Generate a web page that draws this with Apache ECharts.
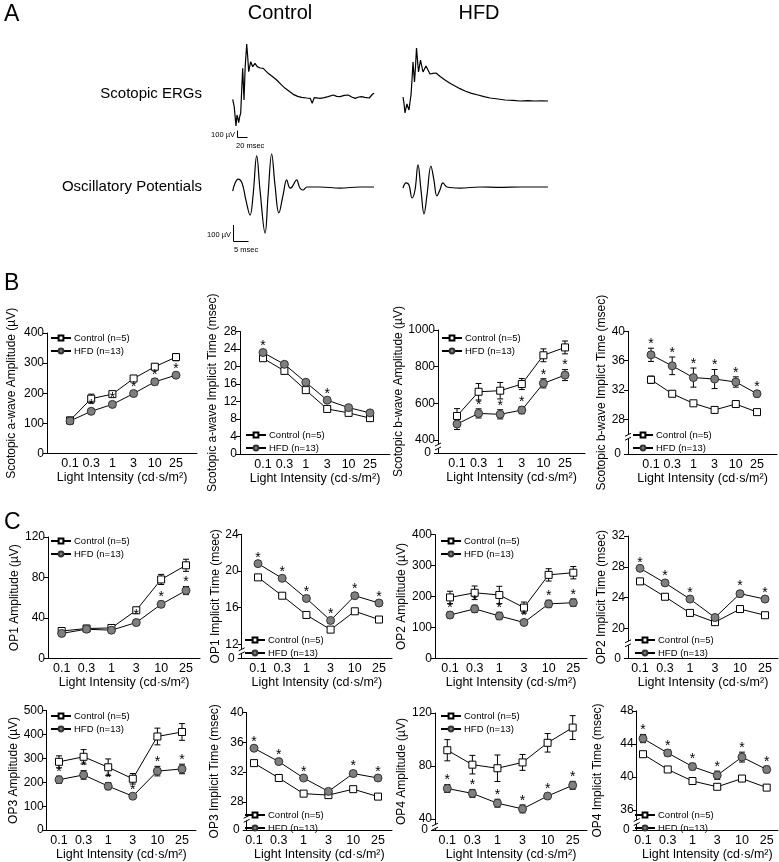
<!DOCTYPE html>
<html><head><meta charset="utf-8">
<script src="https://cdn.jsdelivr.net/npm/echarts@6/dist/echarts.min.js"></script>
<style>html,body{margin:0;padding:0;background:#fff}#c{width:779px;height:862px}</style>
</head><body><div id="c"></div>
<script>
// ---------- data ----------
const intensities = ['0.1','0.3','1','3','10','25'];
const ctrlName = 'Control (n=5)';
const hfdName = 'HFD (n=13)';
const xTitle = 'Light Intensity (cd·s/m²)';

// Panel A traces: [time ms, amplitude µV]
const controlERG = [[0,10],[3,-100],[6.6,-390],[8.6,-225],[10,-260],[12,-340],[14,-250],[16,-195],[18,150],[20,475],[22.6,0],[25,500],[28,840],[30,650],[32,425],[36,575],[40,500],[44.6,550],[49,500],[55,480],[61,475],[71,400],[80,350],[88,300],[97,230],[105,175],[113,130],[121,85],[130,55],[138,40],[148,30],[155,25],[159,-50],[163,35],[175,25],[183,35],[191,50],[201,75],[208,55],[215,50],[223,70],[231,75],[238,45],[245,25],[252,45],[258,50],[264,40],[268,35],[273,30],[276,10],[280,90],[283,100]];
const hfdERG = [[0,45],[2,-50],[4,-195],[6,-120],[8,-60],[10,-110],[12,-150],[14,-30],[16,75],[18,300],[20,570],[23,270],[25,500],[27,780],[29,600],[31,420],[35,600],[40,420],[46,510],[54,390],[60,400],[66,405],[75,350],[84,300],[94,250],[104,210],[114,170],[124,135],[137,100],[150,75],[162,50],[174,30],[190,15],[204,0],[220,-5],[234,-15],[250,-10],[264,-15],[278,-12],[290,-15]];
const controlOP = [[0,-27],[0.8,27],[1.8,53],[3.1,27],[4.4,-87],[5.8,-187],[6.8,-53],[8.0,207],[9.1,-20],[10.8,-307],[11.8,-53],[13.0,220],[14.1,13],[15.4,-173],[16.8,-53],[18.0,47],[19.1,-7],[19.8,0],[21.3,47],[22.4,-7],[23.4,-20],[24.8,0],[29.1,0],[35.8,-7],[42.4,0],[47.1,0]];
const hfdOP = [[0,-7],[1,27],[2,13],[3,-73],[4,-20],[5,147],[6,-20],[7,-180],[8,-53],[9.3,140],[10.3,47],[11.3,-60],[12.3,-20],[13.3,27],[14.7,0],[19,-7],[25.7,0],[32.3,-3],[39,0],[48.3,0]];

// Panel B
const aAmpCtrl = [110, 182, 197, 249, 288, 320];
const aAmpCtrlErr = [10, 15, 8, 10, 8, 12];
const aAmpHfd = [108, 140, 163, 199, 238, 260];
const aAmpHfdErr = [10, 8, 8, 8, 10, 8];
const aAmpSig = [0, 1, 1, 1, 1, 1];
const aAmpTicks = [0, 100, 200, 300, 400];

const aTimeCtrl = [21.9, 19.0, 14.6, 10.3, 9.4, 8.2];
const aTimeCtrlErr = [0.4, 0.5, 0.6, 0.4, 0.4, 0.3];
const aTimeHfd = [23.2, 20.5, 16.4, 12.3, 10.6, 9.4];
const aTimeHfdErr = [0.5, 0.5, 0.6, 0.5, 0.4, 0.4];
const aTimeSig = [1, 0, 0, 1, 0, 0];
const aTimeTicks = [0, 4, 8, 12, 16, 20, 24, 28];

const bAmpCtrl = [531, 663, 669, 705, 862, 905];
const bAmpCtrlErr = [40, 45, 45, 30, 35, 35];
const bAmpHfd = [487, 545, 540, 563, 709, 754];
const bAmpHfdErr = [30, 25, 25, 20, 25, 30];
const bAmpSig = [0, 1, 1, 1, 1, 1];
const bAmpTicks = [0, 400, 600, 800, 1000];

const bTimeCtrl = [33.4, 31.5, 30.2, 29.3, 30.1, 29.0];
const bTimeCtrlErr = [0.5, 0.3, 0.3, 0.3, 0.3, 0.3];
const bTimeHfd = [36.8, 35.3, 33.7, 33.5, 33.1, 31.5];
const bTimeHfdErr = [0.9, 1.2, 1.3, 1.3, 0.7, 0.4];
const bTimeSig = [1, 1, 1, 1, 1, 1];
const bTimeTicks = [0, 28, 32, 36, 40];

// Panel C
const op1AmpCtrl = [27, 29.5, 30, 47.5, 78, 92];
const op1AmpCtrlErr = [2, 2, 2, 3, 5, 6];
const op1AmpHfd = [24.6, 28.8, 27.8, 35.4, 53.4, 67];
const op1AmpHfdErr = [2, 1.5, 1.5, 3, 3, 4];
const op1AmpSig = [0, 0, 0, 1, 1, 1];
const op1AmpTicks = [0, 40, 80, 120];

const op1TimeCtrl = [19.3, 17.3, 15.2, 13.6, 15.6, 14.7];
const op1TimeCtrlErr = [0.2, 0.2, 0.1, 0.2, 0.1, 0.1];
const op1TimeHfd = [20.8, 19.2, 17.0, 14.6, 17.3, 16.5];
const op1TimeHfdErr = [0.2, 0.2, 0.3, 0.3, 0.3, 0.2];
const op1TimeSig = [1, 1, 1, 1, 1, 1];
const op1TimeTicks = [0, 12, 16, 20, 24];

const op2AmpCtrl = [197, 212, 205, 164, 270, 277];
const op2AmpCtrlErr = [20, 22, 28, 18, 20, 20];
const op2AmpHfd = [140, 160, 137, 116, 176, 180];
const op2AmpHfdErr = [10, 12, 12, 8, 12, 12];
const op2AmpSig = [1, 1, 1, 1, 1, 1];
const op2AmpTicks = [0, 100, 200, 300, 400];

const op2TimeCtrl = [26.1, 24.1, 22.0, 20.8, 22.5, 21.7];
const op2TimeCtrlErr = [0.2, 0.2, 0.2, 0.2, 0.2, 0.2];
const op2TimeHfd = [27.8, 25.9, 23.8, 21.4, 24.5, 23.8];
const op2TimeHfdErr = [0.2, 0.3, 0.3, 0.2, 0.4, 0.3];
const op2TimeSig = [1, 1, 1, 0, 1, 1];
const op2TimeTicks = [0, 20, 24, 28, 32];

const op3AmpCtrl = [286, 307, 263, 215, 392, 411];
const op3AmpCtrlErr = [25, 30, 35, 22, 35, 35];
const op3AmpHfd = [211, 231, 184, 142, 247, 256];
const op3AmpHfdErr = [15, 18, 15, 8, 20, 20];
const op3AmpSig = [1, 1, 1, 1, 1, 1];
const op3AmpTicks = [0, 100, 200, 300, 400, 500];

const op3TimeCtrl = [33.2, 31.2, 29.1, 28.9, 29.7, 28.7];
const op3TimeCtrlErr = [0.3, 0.3, 0.2, 0.3, 0.2, 0.3];
const op3TimeHfd = [35.2, 33.4, 31.2, 29.4, 31.8, 31.2];
const op3TimeHfdErr = [0.3, 0.3, 0.3, 0.3, 0.4, 0.3];
const op3TimeSig = [1, 1, 1, 0, 1, 1];
const op3TimeTicks = [0, 28, 32, 36, 40];

const op4AmpCtrl = [91.9, 81, 78.3, 82.7, 97.5, 109];
const op4AmpCtrlErr = [8, 7, 10, 6, 7, 9];
const op4AmpHfd = [63, 59.3, 51.9, 47.6, 57.3, 65.4];
const op4AmpHfdErr = [3, 3, 3, 3, 2, 3];
const op4AmpSig = [1, 1, 1, 1, 1, 1];
const op4AmpTicks = [0, 40, 80, 120];

const op4TimeCtrl = [42.75, 40.9, 39.5, 38.8, 39.8, 38.7];
const op4TimeCtrlErr = [0.3, 0.3, 0.3, 0.3, 0.3, 0.3];
const op4TimeHfd = [44.65, 42.9, 41.25, 40.2, 42.4, 40.9];
const op4TimeHfdErr = [0.5, 0.4, 0.4, 0.5, 0.6, 0.4];
const op4TimeSig = [1, 1, 1, 1, 1, 1];
const op4TimeTicks = [0, 36, 40, 44, 48];

// ---------- chart definitions ----------
const panels = [
  {title:'Scotopic a-wave Amplitude (\u00b5V)', c:aAmpCtrl, ce:aAmpCtrlErr, h:aAmpHfd, he:aAmpHfdErr, s:aAmpSig, ticks:aAmpTicks},
  {title:'Scotopic a-wave Implicit Time (msec)', c:aTimeCtrl, ce:aTimeCtrlErr, h:aTimeHfd, he:aTimeHfdErr, s:aTimeSig, ticks:aTimeTicks},
  {title:'Scotopic b-wave Amplitude (\u00b5V)', c:bAmpCtrl, ce:bAmpCtrlErr, h:bAmpHfd, he:bAmpHfdErr, s:bAmpSig, ticks:bAmpTicks},
  {title:'Scotopic b-wave Implict Time (msec)', c:bTimeCtrl, ce:bTimeCtrlErr, h:bTimeHfd, he:bTimeHfdErr, s:bTimeSig, ticks:bTimeTicks},
  {title:'OP1 Amplitude (\u00b5V)', c:op1AmpCtrl, ce:op1AmpCtrlErr, h:op1AmpHfd, he:op1AmpHfdErr, s:op1AmpSig, ticks:op1AmpTicks},
  {title:'OP1 Implicit Time (msec)', c:op1TimeCtrl, ce:op1TimeCtrlErr, h:op1TimeHfd, he:op1TimeHfdErr, s:op1TimeSig, ticks:op1TimeTicks},
  {title:'OP2 Amplitude (\u00b5V)', c:op2AmpCtrl, ce:op2AmpCtrlErr, h:op2AmpHfd, he:op2AmpHfdErr, s:op2AmpSig, ticks:op2AmpTicks},
  {title:'OP2 Implicit Time (msec)', c:op2TimeCtrl, ce:op2TimeCtrlErr, h:op2TimeHfd, he:op2TimeHfdErr, s:op2TimeSig, ticks:op2TimeTicks},
  {title:'OP3 Amplitude (\u00b5V)', c:op3AmpCtrl, ce:op3AmpCtrlErr, h:op3AmpHfd, he:op3AmpHfdErr, s:op3AmpSig, ticks:op3AmpTicks},
  {title:'OP3 Implicit Time (msec)', c:op3TimeCtrl, ce:op3TimeCtrlErr, h:op3TimeHfd, he:op3TimeHfdErr, s:op3TimeSig, ticks:op3TimeTicks},
  {title:'OP4 Amplitude (\u00b5V)', c:op4AmpCtrl, ce:op4AmpCtrlErr, h:op4AmpHfd, he:op4AmpHfdErr, s:op4AmpSig, ticks:op4AmpTicks},
  {title:'OP4 Implicit Time (msec)', c:op4TimeCtrl, ce:op4TimeCtrlErr, h:op4TimeHfd, he:op4TimeHfdErr, s:op4TimeSig, ticks:op4TimeTicks}
];

// layout (pixels): axis left/end, first/last point x, top/bottom, y range, legend pos, name gap
const layout = [
  {l:47, e:197, p0:70, p5:176, t:333, b:453.5, min:0, max:400, lg:[50,333], ng:29},
  {l:240, e:390, p0:263, p5:370, t:331.5, b:454, min:0, max:28, lg:[245,430], ng:21},
  {l:438, e:585, p0:457, p5:565, t:330, b:453, min:329, max:1000, lg:[441,333], ng:29},
  {l:628, e:777, p0:651, p5:757, t:331.3, b:454, min:23.3, max:40, lg:[632,430], ng:19},
  {l:48, e:200, p0:61.7, p5:186, t:537, b:658.3, min:0, max:120, lg:[50,536], ng:19},
  {l:241.7, e:392, p0:258, p5:379, t:534.3, b:658.3, min:10.47, max:24, lg:[244,635], ng:18},
  {l:435, e:587, p0:450, p5:573.3, t:534.7, b:658.3, min:0, max:400, lg:[440,536], ng:26},
  {l:628, e:778, p0:640, p5:765, t:536, b:658.3, min:16.1, max:32, lg:[634,635], ng:20},
  {l:46.7, e:196, p0:59, p5:182, t:710.7, b:832.3, min:0, max:500, lg:[50,711], ng:23},
  {l:246.7, e:392, p0:254, p5:378, t:712.5, b:833.3, min:24.2, max:40, lg:[244,810], ng:26},
  {l:435, e:587, p0:447.3, p5:572.7, t:713, b:832.3, min:31.6, max:120, lg:[440,711], ng:21},
  {l:636.7, e:778, p0:643, p5:766.7, t:710.9, b:832.3, min:33.55, max:48, lg:[634,810], ng:33}
];

const FONT = 'Liberation Sans, Arial, Helvetica, sans-serif';
const grids = [], xAxes = [], yAxes = [], series = [], legends = [], graphics = [];
const zeroAxes = [];

function errSeries(k, xs, vals, errs) {
  return {
    type:'custom', xAxisIndex:k, yAxisIndex:k, z:1, silent:true,
    data: vals.map((v,i)=>[xs[i], v-errs[i], v+errs[i]]),
    encode:{x:0, y:[1,2]},
    renderItem:(params, api)=>{
      const lo = api.coord([api.value(0), api.value(1)]);
      const hi = api.coord([api.value(0), api.value(2)]);
      const w = 3, st = {stroke:'#000', lineWidth:1};
      return {type:'group', children:[
        {type:'line', shape:{x1:lo[0],y1:lo[1],x2:hi[0],y2:hi[1]}, style:st},
        {type:'line', shape:{x1:lo[0]-w,y1:lo[1],x2:lo[0]+w,y2:lo[1]}, style:st},
        {type:'line', shape:{x1:hi[0]-w,y1:hi[1],x2:hi[0]+w,y2:hi[1]}, style:st}
      ]};
    }
  };
}

panels.forEach((p, k) => {
  const L = layout[k];
  const unit = (L.p5 - L.p0) / 5;
  const x0 = (L.p0 - L.l) / unit;
  const M = (L.e - L.l) / unit;
  const xs = intensities.map((_, i) => x0 + i);
  const broken = L.min > 0;
  const tickPos = p.ticks.map(v => (v === 0 && broken) ? L.min : v);
  const labelPos = broken ? p.ticks.filter(v => v !== 0) : p.ticks;
  grids.push({left:L.l, top:L.t, width:L.e - L.l, height:L.b - L.t, containLabel:false});
  xAxes.push({
    type:'value', gridIndex:k, min:0, max:M,
    name:xTitle, nameLocation:'middle', nameGap:16,
    nameTextStyle:{fontSize:12.5, color:'#000', fontFamily:FONT},
    axisLine:{show:true, lineStyle:{color:'#000', width:1}},
    axisTick:{show:false}, splitLine:{show:false},
    axisLabel:{customValues:xs, margin:4, fontSize:12.5, color:'#000', fontFamily:FONT,
      formatter:(v)=>{ const i = Math.round(v - x0); return intensities[i] !== undefined ? intensities[i] : ''; }}
  });
  yAxes.push({
    type:'value', gridIndex:k, min:L.min, max:L.max, position:'left',
    name:p.title, nameLocation:'middle', nameRotate:90, nameGap:L.ng,
    nameTextStyle:{fontSize:12, color:'#000', fontFamily:FONT},
    axisLine:{show:true, lineStyle:{color:'#000', width:1}},
    axisTick:{show:true, customValues:tickPos, length:4, lineStyle:{color:'#000'}},
    splitLine:{show:false},
    axisLabel:{customValues:labelPos, margin:3, fontSize:12, color:'#000', fontFamily:FONT,
      formatter:(v)=> String(v)}
  });
  if (broken) {
    // separate axis on the same grid that carries only the "0" label of the broken axis
    zeroAxes.push({
      type:'value', gridIndex:k, min:0, max:1, position:'left', offset:0,
      axisLine:{show:false}, axisTick:{show:false}, splitLine:{show:false},
      axisLabel:{customValues:[0], showMinLabel:true, margin:7, fontSize:12, color:'#000', fontFamily:FONT,
        formatter:()=> '0'}
    });
  }
  series.push(errSeries(k, xs, p.c, p.ce));
  series.push(errSeries(k, xs, p.h, p.he));
  series.push({
    type:'line', name:ctrlName, xAxisIndex:k, yAxisIndex:k, z:3, silent:true,
    data:p.c.map((v,i)=>[xs[i], v]),
    symbol:'rect', symbolSize:7, showAllSymbol:true,
    itemStyle:{color:'#fff', borderColor:'#000', borderWidth:1},
    lineStyle:{color:'#000', width:1}
  });
  series.push({
    type:'line', name:hfdName, xAxisIndex:k, yAxisIndex:k, z:3, silent:true,
    data:p.h.map((v,i)=>[xs[i], v]),
    symbol:'circle', symbolSize:8, showAllSymbol:true,
    itemStyle:{color:'#7f7f7f', borderColor:'#333', borderWidth:1},
    lineStyle:{color:'#000', width:1}
  });
  series.push({
    type:'custom', xAxisIndex:k, yAxisIndex:k, z:4, silent:true,
    data:p.h.map((v,i)=>[xs[i], v + p.he[i], p.s[i]]).filter(d=>d[2]),
    encode:{x:0, y:1},
    renderItem:(params, api)=>{
      const pt = api.coord([api.value(0), api.value(1)]);
      return {type:'text', x:pt[0], y:pt[1]+3, style:{text:'*', fontSize:14, fontFamily:FONT, fill:'#000', align:'center', verticalAlign:'bottom'}};
    }
  });
  legends.push({
    left:L.lg[0], top:L.lg[1], orient:'vertical', padding:0, itemGap:3,
    itemWidth:20, itemHeight:6, selectedMode:false,
    textStyle:{fontSize:9.5, color:'#000', fontFamily:FONT, padding:[0,0,0,-2]},
    data:[ctrlName, hfdName]
  });
  if (broken) {
    const yFirst = L.b - (tickPos[1] - L.min) / (L.max - L.min) * (L.b - L.t);
    const ym = (L.b + yFirst) / 2;
    const ax = L.l;
    graphics.push({type:'rect', shape:{x:ax-1.5, y:ym-2, width:3, height:4}, style:{fill:'#fff'}, z:50});
    graphics.push({type:'line', shape:{x1:ax-3, y1:ym-0.5, x2:ax+3, y2:ym-3.5}, style:{stroke:'#000', lineWidth:1}, z:51});
    graphics.push({type:'line', shape:{x1:ax-3, y1:ym+3.5, x2:ax+3, y2:ym+0.5}, style:{stroke:'#000', lineWidth:1}, z:51});
  }
});

// trace grids (panel A)
const traceDefs = [
  {data:controlERG, left:232.7, top:35, width:143, height:100, xmax:286, ymin:-525, ymax:975, smooth:false},
  {data:hfdERG, left:403, top:35, width:145, height:100, xmax:290, ymin:-525, ymax:975, smooth:false},
  {data:controlOP, left:232.7, top:142, width:143, height:100, xmax:47.67, ymin:-366.7, ymax:300, smooth:0.4},
  {data:hfdOP, left:403, top:142, width:145, height:100, xmax:48.33, ymin:-366.7, ymax:300, smooth:0.4}
];
traceDefs.forEach((d) => {
  const gi = grids.length;
  grids.push({left:d.left, top:d.top, width:d.width, height:d.height});
  xAxes.push({type:'value', gridIndex:gi, min:0, max:d.xmax, show:false});
  yAxes.push({type:'value', gridIndex:gi, min:d.ymin, max:d.ymax, show:false});
  series.push({type:'line', xAxisIndex:gi, yAxisIndex:gi, data:d.data, showSymbol:false, smooth:d.smooth,
    lineStyle:{color:'#000', width:1.2}, silent:true});
});
zeroAxes.forEach(a => yAxes.push(a));

// texts
const txt = (x, y, s, size, align) => ({type:'text', x, y, style:{text:s, fontSize:size, fontFamily:FONT, fill:'#000', align:align||'left', verticalAlign:'middle'}});
graphics.push(txt(4, 15, 'A', 23));
graphics.push(txt(4, 284, 'B', 23));
graphics.push(txt(4, 523, 'C', 23));
graphics.push(txt(280, 13, 'Control', 20, 'center'));
graphics.push(txt(479, 13, 'HFD', 20, 'center'));
graphics.push(txt(202, 94, 'Scotopic ERGs', 15, 'right'));
graphics.push(txt(202, 187, 'Oscillatory Potentials', 15, 'right'));
// scale bars
const ln = (x1,y1,x2,y2) => ({type:'line', shape:{x1,y1,x2,y2}, style:{stroke:'#000', lineWidth:1}});
graphics.push(ln(237.5, 130.5, 237.5, 137.5), ln(237.5, 137.5, 247.5, 137.5));
graphics.push(txt(235, 135, '100 \u00b5V', 7.5, 'right'), txt(236, 146, '20 msec', 7.5, 'left'));
graphics.push(ln(233.5, 225, 233.5, 241.5), ln(233.5, 241.5, 248.5, 241.5));
graphics.push(txt(231, 235, '100 \u00b5V', 7.5, 'right'), txt(234, 250, '5 msec', 7.5, 'left'));

const chart = echarts.init(document.getElementById('c'), null, {renderer:'canvas'});
chart.setOption({
  backgroundColor:'#fff',
  animation:false,
  textStyle:{fontFamily:FONT},
  grid:grids, xAxis:xAxes, yAxis:yAxes, legend:legends, series, graphic:graphics
});
</script>
</body></html>
